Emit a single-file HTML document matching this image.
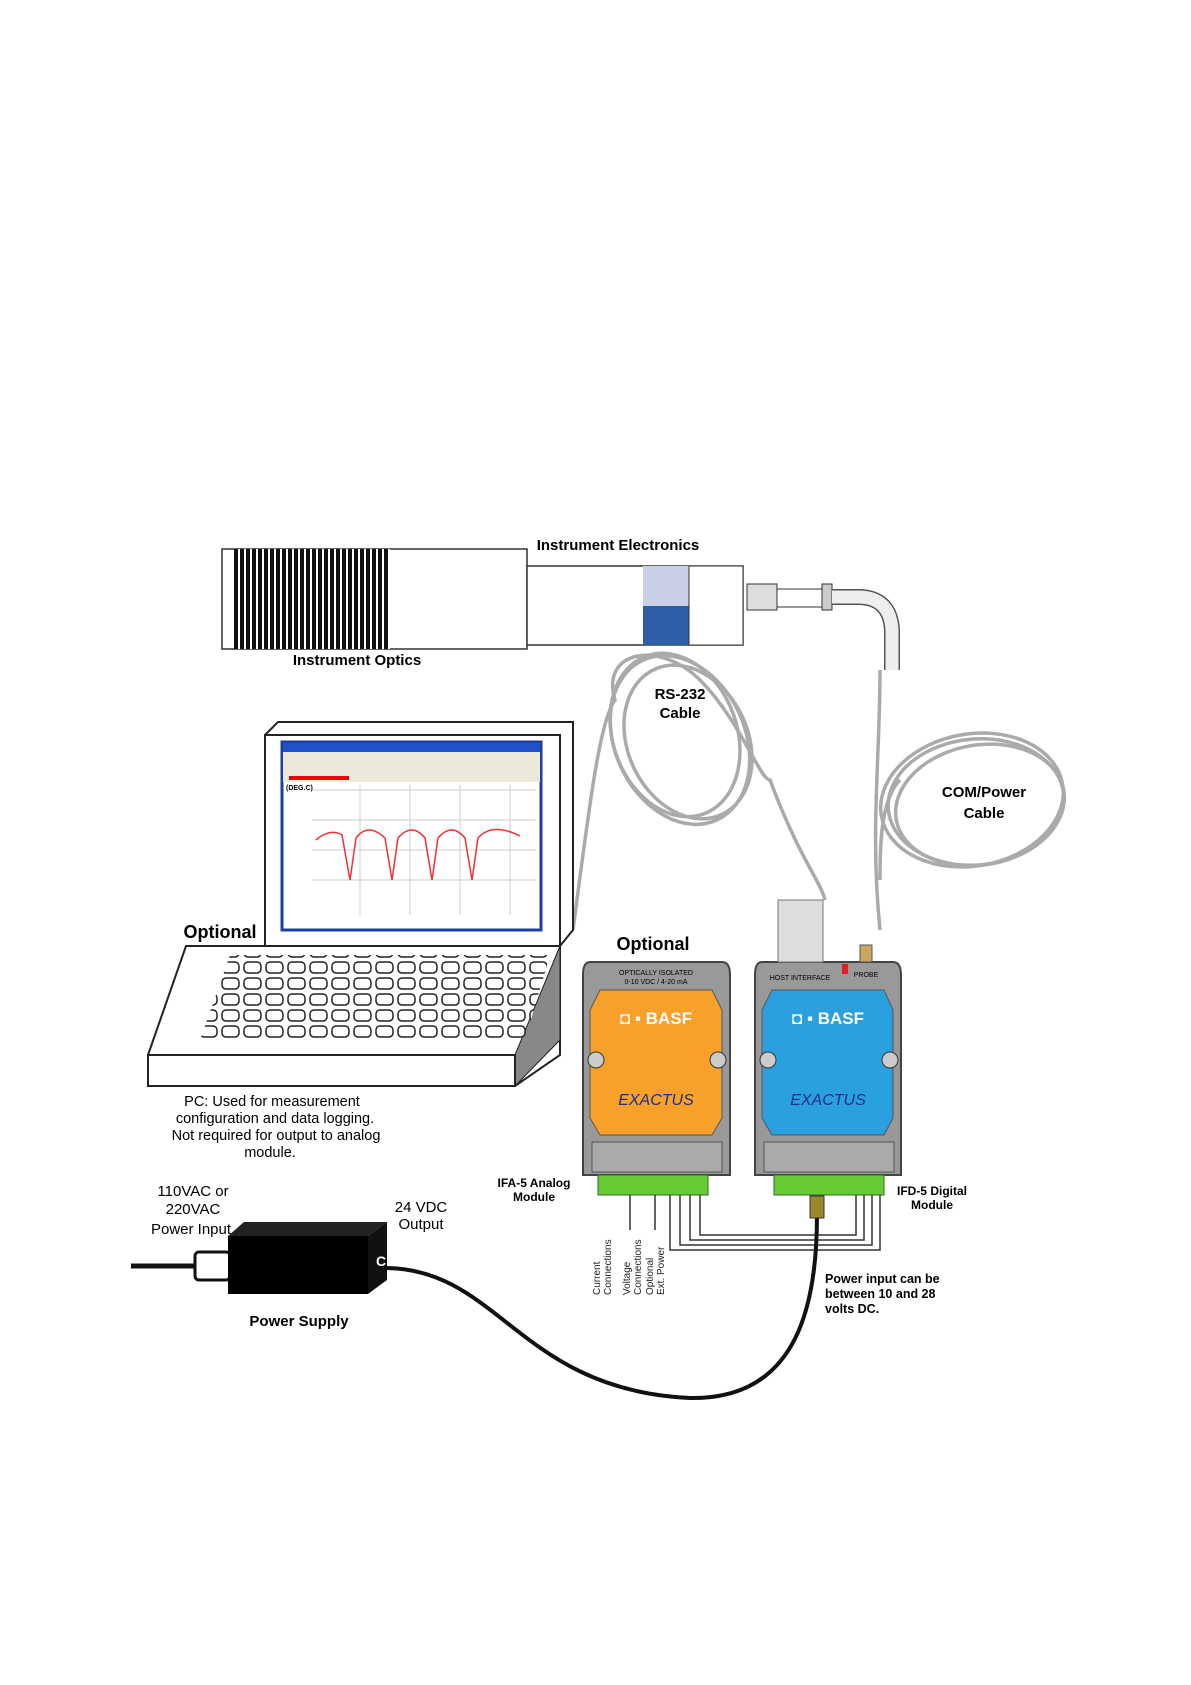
<!DOCTYPE html>
<html><head><meta charset="utf-8"><style>
html,body{margin:0;padding:0;background:#fff}
svg{display:block}
text{font-family:"Liberation Sans",sans-serif}
</style></head><body>
<svg width="1191" height="1685" viewBox="0 0 1191 1685" xmlns="http://www.w3.org/2000/svg">
<defs>
<pattern id="rib" width="6" height="10" patternUnits="userSpaceOnUse"><rect width="6" height="10" fill="#fff"/><rect width="4" height="10" fill="#111"/></pattern>
<pattern id="keys" width="22" height="16" patternUnits="userSpaceOnUse"><rect x="2" y="2" width="17" height="11" rx="4" fill="#fff" stroke="#222" stroke-width="1.5"/></pattern>
</defs>
<!-- instrument optics -->
<rect x="222" y="549" width="305" height="100" fill="#fff" stroke="#333" stroke-width="1.5"/>
<rect x="234" y="549" width="156" height="100" fill="url(#rib)"/>
<rect x="527" y="566" width="216" height="79" fill="#fff" stroke="#333" stroke-width="1.5"/>
<rect x="643" y="566" width="46" height="79" fill="#c9cfe4"/>
<rect x="643" y="606" width="46" height="39" fill="#2e5ea8"/>
<rect x="689" y="566" width="54" height="79" fill="#fff" stroke="#333"/>
<rect x="747" y="584" width="30" height="26" fill="#ddd" stroke="#333"/>
<rect x="777" y="589" width="45" height="18" fill="#fff" stroke="#333"/>
<rect x="822" y="584" width="10" height="26" fill="#ccc" stroke="#333"/>
<path d="M832 597 H858 Q890 597 892 630 V670" fill="none" stroke="#555" stroke-width="16"/>
<path d="M832 597 H858 Q890 597 892 630 V670" fill="none" stroke="#eee" stroke-width="13"/>
<text x="618" y="550" font-size="15" font-weight="bold" text-anchor="middle">Instrument Electronics</text>
<text x="357" y="665" font-size="15" font-weight="bold" text-anchor="middle">Instrument Optics</text>
<!-- cables -->
<g fill="none" stroke="#aaa" stroke-width="3.5">
<path d="M880 670 C880 760 870 830 880 930"/>
<path d="M573 930 C590 800 600 720 615 700 C 600 650 660 640 700 680 C 740 720 760 780 770 780 C 800 860 820 880 825 900"/>
<ellipse cx="680" cy="740" rx="65" ry="88" transform="rotate(-25 680 740)"/>
<ellipse cx="688" cy="742" rx="60" ry="80" transform="rotate(-25 688 742)"/>
<ellipse cx="675" cy="735" rx="62" ry="84" transform="rotate(-20 675 735)"/>
<ellipse cx="972" cy="800" rx="92" ry="66" transform="rotate(-10 972 800)"/>
<ellipse cx="980" cy="805" rx="85" ry="60" transform="rotate(-10 980 805)"/>
<ellipse cx="976" cy="802" rx="88" ry="63" transform="rotate(-5 976 802)"/>
<path d="M880 880 C880 850 880 800 900 780"/>
</g>
<text x="680" y="699" font-size="15" font-weight="bold" text-anchor="middle">RS-232</text>
<text x="680" y="718" font-size="15" font-weight="bold" text-anchor="middle">Cable</text>
<text x="984" y="797" font-size="15" font-weight="bold" text-anchor="middle">COM/Power</text>
<text x="984" y="818" font-size="15" font-weight="bold" text-anchor="middle">Cable</text>
<!-- laptop -->
<polygon points="265,735 278,722 573,722 573,930 560,946 265,946" fill="#fff" stroke="#222" stroke-width="2"/>
<rect x="265" y="735" width="295" height="211" fill="#fff" stroke="#222" stroke-width="2"/>
<rect x="282" y="742" width="259" height="188" fill="#fff" stroke="#1a3fa0" stroke-width="3"/>
<rect x="283" y="743" width="257" height="9" fill="#2352c8"/>
<rect x="283" y="752" width="257" height="30" fill="#ece9d8"/>
<rect x="289" y="776" width="60" height="4" fill="#e00"/>
<g stroke="#ccc" stroke-width="1"><line x1="312" y1="790" x2="536" y2="790"/><line x1="312" y1="820" x2="536" y2="820"/><line x1="312" y1="850" x2="536" y2="850"/><line x1="312" y1="880" x2="536" y2="880"/><line x1="360" y1="785" x2="360" y2="915"/><line x1="410" y1="785" x2="410" y2="915"/><line x1="460" y1="785" x2="460" y2="915"/><line x1="510" y1="785" x2="510" y2="915"/></g>
<path d="M316 840 Q330 828 342 835 L350 880 L356 838 Q368 822 385 838 L392 880 L398 838 Q412 822 425 838 L432 880 L438 838 Q452 822 465 838 L472 880 L478 838 Q492 822 520 836" fill="none" stroke="#e33" stroke-width="1.5"/>
<text x="286" y="790" font-size="7" font-weight="bold">(DEG.C)</text>
<polygon points="148,1055 186,946 560,946 560,1055 515,1086 148,1086" fill="#fff" stroke="#222" stroke-width="2"/>
<polygon points="560,946 560,1040 515,1086 515,1055" fill="#888" stroke="#222"/>
<rect x="148" y="1055" width="367" height="31" fill="#fff" stroke="#222" stroke-width="2"/>
<polygon points="200,1040 230,955 550,955 525,1040" fill="url(#keys)"/>
<text x="220" y="938" font-size="18" font-weight="bold" text-anchor="middle">Optional</text>
<g font-size="14.5" text-anchor="middle"><text x="272" y="1106">PC: Used for measurement</text><text x="275" y="1123">configuration and data logging.</text><text x="276" y="1140">Not required for output to analog</text><text x="270" y="1157">module.</text></g>
<!-- modules -->
<text x="653" y="950" font-size="18" font-weight="bold" text-anchor="middle">Optional</text>
<g>
<path d="M590 962 H722 Q730 962 730 975 V1175 H583 V975 Q583 962 590 962Z" fill="#999" stroke="#444" stroke-width="2"/>
<path d="M600 990 H712 L722 1010 V1118 L712 1135 H600 L590 1118 V1010Z" fill="#f7a12a" stroke="#555"/>
<rect x="592" y="1142" width="130" height="30" fill="#aaa" stroke="#555"/>
<text x="656" y="975" font-size="7" text-anchor="middle">OPTICALLY ISOLATED</text>
<text x="656" y="984" font-size="7" text-anchor="middle">0-10 VDC / 4-20 mA</text>
<text x="656" y="1024" font-size="17" font-weight="bold" fill="#fff" text-anchor="middle">◘ ▪ BASF</text>
<text x="656" y="1105" font-size="16" font-style="italic" font-family="Liberation Serif,serif" fill="#1b2e8a" text-anchor="middle">EXACTUS</text>
<circle cx="596" cy="1060" r="8" fill="#ccc" stroke="#333"/><circle cx="718" cy="1060" r="8" fill="#ccc" stroke="#333"/>
<rect x="598" y="1175" width="110" height="20" fill="#6c3" stroke="#363"/>
</g>
<g>
<path d="M762 962 H893 Q901 962 901 975 V1175 H755 V975 Q755 962 762 962Z" fill="#999" stroke="#444" stroke-width="2"/>
<path d="M772 990 H884 L893 1010 V1118 L884 1135 H772 L762 1118 V1010Z" fill="#2aa0de" stroke="#555"/>
<rect x="764" y="1142" width="130" height="30" fill="#aaa" stroke="#555"/>
<text x="800" y="980" font-size="7" text-anchor="middle">HOST INTERFACE</text>
<text x="866" y="977" font-size="7" text-anchor="middle">PROBE</text>
<rect x="842" y="964" width="6" height="10" fill="#d22"/>
<text x="828" y="1024" font-size="17" font-weight="bold" fill="#fff" text-anchor="middle">◘ ▪ BASF</text>
<text x="828" y="1105" font-size="16" font-style="italic" font-family="Liberation Serif,serif" fill="#1b2e8a" text-anchor="middle">EXACTUS</text>
<circle cx="768" cy="1060" r="8" fill="#ccc" stroke="#333"/><circle cx="890" cy="1060" r="8" fill="#ccc" stroke="#333"/>
<rect x="774" y="1175" width="110" height="20" fill="#6c3" stroke="#363"/>
</g>
<rect x="778" y="900" width="45" height="62" fill="#ddd" stroke="#777"/>
<rect x="860" y="945" width="12" height="17" fill="#c9a760" stroke="#555"/>
<!-- wires -->
<g fill="none" stroke="#333" stroke-width="1.5">
<path d="M670 1195 V1250 H880 V1195"/><path d="M680 1195 V1245 H872 V1195"/><path d="M690 1195 V1240 H864 V1195"/><path d="M700 1195 V1235 H856 V1195"/>
<path d="M630 1195 V1230"/><path d="M655 1195 V1230"/>
</g>
<g font-size="10" fill="#222"><text transform="translate(600,1295) rotate(-90)">Current</text><text transform="translate(611,1295) rotate(-90)">Connections</text><text transform="translate(630,1295) rotate(-90)">Voltage</text><text transform="translate(641,1295) rotate(-90)">Connections</text><text transform="translate(653,1295) rotate(-90)">Optional</text><text transform="translate(664,1295) rotate(-90)">Ext. Power</text></g>
<text x="534" y="1187" font-size="12" font-weight="bold" text-anchor="middle">IFA-5 Analog</text>
<text x="534" y="1201" font-size="12" font-weight="bold" text-anchor="middle">Module</text>
<text x="932" y="1195" font-size="12" font-weight="bold" text-anchor="middle">IFD-5 Digital</text>
<text x="932" y="1209" font-size="12" font-weight="bold" text-anchor="middle">Module</text>
<!-- power cable -->
<path d="M387 1268 C500 1270 520 1390 690 1398 C800 1400 817 1300 817 1215" fill="none" stroke="#111" stroke-width="4"/>
<rect x="810" y="1196" width="14" height="22" fill="#9a8a2a" stroke="#333"/>
<line x1="131" y1="1266" x2="195" y2="1266" stroke="#111" stroke-width="5"/>
<rect x="195" y="1252" width="35" height="28" rx="4" fill="#fff" stroke="#111" stroke-width="3"/>
<rect x="228" y="1236" width="140" height="58" fill="#000"/>
<polygon points="228,1236 244,1222 387,1222 368,1236" fill="#222"/>
<polygon points="368,1236 387,1222 387,1280 368,1294" fill="#111"/>
<text x="376" y="1266" font-size="14" fill="#fff" font-weight="bold">C</text>
<g font-size="15" text-anchor="middle"><text x="193" y="1196">110VAC or</text><text x="193" y="1214">220VAC</text><text x="191" y="1234">Power Input</text><text x="421" y="1212">24 VDC</text><text x="421" y="1229">Output</text></g>
<text x="299" y="1326" font-size="15" font-weight="bold" text-anchor="middle">Power Supply</text>
<g font-size="12.5" font-weight="bold"><text x="825" y="1283">Power input can be</text><text x="825" y="1298">between 10 and 28</text><text x="825" y="1313">volts DC.</text></g>
</svg>
</body></html>
